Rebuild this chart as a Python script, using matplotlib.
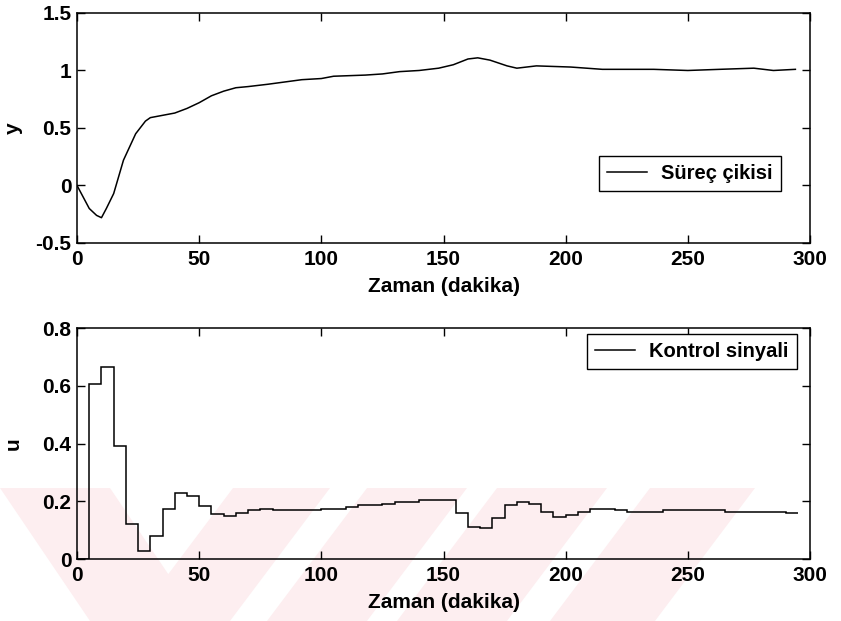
import numpy as np
import matplotlib
matplotlib.use("Agg")
import matplotlib.pyplot as plt
from matplotlib.patches import Polygon
from matplotlib.ticker import FormatStrFormatter

plt.rcParams['font.family'] = ['Liberation Sans', 'DejaVu Sans']
plt.rcParams['font.weight'] = 'bold'
plt.rcParams['axes.labelweight'] = 'bold'
plt.rcParams['font.size'] = 15

# process output y(t)
t_y = [0, 2, 5, 8, 10, 12, 15, 19, 24, 28, 30, 35, 40, 45, 50, 55, 60, 65, 70,
       78, 85, 92, 100, 105, 118, 125, 132, 140, 148, 154, 160, 164, 169, 176,
       180, 188, 195, 202, 215, 236, 250, 263, 277, 285, 294]
y = [0.0, -0.08, -0.2, -0.26, -0.28, -0.2, -0.07, 0.22, 0.45, 0.56, 0.59, 0.61,
     0.63, 0.67, 0.72, 0.78, 0.82, 0.85, 0.86, 0.88, 0.90, 0.92, 0.93, 0.95,
     0.96, 0.97, 0.99, 1.00, 1.02, 1.05, 1.10, 1.11, 1.09, 1.04, 1.02, 1.04,
     1.035, 1.03, 1.01, 1.01, 1.00, 1.01, 1.02, 1.00, 1.01]

# control signal, held over 5 minute sample periods
u = [0.0, 0.605, 0.665, 0.39, 0.12, 0.027, 0.08, 0.172, 0.228, 0.218,
     0.183, 0.155, 0.150, 0.160, 0.171, 0.174, 0.170, 0.170, 0.170, 0.170,
     0.174, 0.174, 0.181, 0.186, 0.186, 0.192, 0.196, 0.196, 0.204, 0.204,
     0.204, 0.158, 0.112, 0.108, 0.141, 0.187, 0.197, 0.189, 0.164, 0.147,
     0.152, 0.162, 0.173, 0.173, 0.170, 0.163, 0.163, 0.163, 0.170, 0.170,
     0.170, 0.170, 0.170, 0.163, 0.163, 0.163, 0.163, 0.163, 0.158]
Ts = 5
u_edges = np.arange(len(u) + 1) * Ts

xticks = [0, 50, 100, 150, 200, 250, 300]
y_ticks = [-0.5, 0, 0.5, 1, 1.5]
u_ticks = [0, 0.2, 0.4, 0.6, 0.8]
xlabel = 'Zaman (dakika)'

W, H = 841, 621
fig = plt.figure(figsize=(W / 100, H / 100), dpi=100)
fig.patch.set_facecolor('white')

# faint thesis watermark stripes (pixel coords of the page)
pink = '#fdeef0'
stripes = [
    [(650, 488), (755, 488), (655, 621), (550, 621)],
    [(497, 488), (607, 488), (507, 621), (397, 621)],
    [(367, 488), (467, 488), (367, 621), (267, 621)],
    [(233, 488), (330, 488), (230, 621), (133, 621)],
    [(0, 488), (110, 488), (200, 621), (90, 621)],
]
for s in stripes:
    pts = [(px / W, 1 - py / H) for px, py in s]
    fig.add_artist(Polygon(pts, closed=True, facecolor=pink, edgecolor='none',
                           transform=fig.transFigure, zorder=-1))

ax1 = fig.add_axes([0.0916, 0.6087, 0.8716, 0.3704])
ax2 = fig.add_axes([0.0916, 0.0998, 0.8716, 0.372])

ax1.plot(t_y, y, color='black', lw=1.1, label='Süreç çikisi')
ax2.stairs(u, u_edges, baseline=None, color='black', lw=1.1, label='Kontrol sinyali')

ax1.set_ylim(-0.5, 1.5)
ax1.set_yticks(y_ticks)
ax1.yaxis.set_major_formatter(FormatStrFormatter('%g'))
ax1.set_ylabel('y')

ax2.set_ylim(0, 0.8)
ax2.set_yticks(u_ticks)
ax2.yaxis.set_major_formatter(FormatStrFormatter('%g'))
ax2.set_ylabel('u')

for ax in (ax1, ax2):
    ax.set_facecolor('none')
    ax.set_xlim(0, 300)
    ax.set_xticks(xticks)
    ax.set_xlabel(xlabel, labelpad=6)
    ax.yaxis.set_label_coords(-0.074, 0.5)
    ax.tick_params(direction='in', length=5.5, width=1, top=True, right=True)
    ax.tick_params(axis='x', pad=5)
    ax.tick_params(axis='y', pad=4)
    for sp in ax.spines.values():
        sp.set_linewidth(1.1)

leg_kw = dict(fancybox=False, edgecolor='black', framealpha=1, borderaxespad=0,
              handlelength=2.0, handletextpad=0.7, borderpad=0.4,
              prop={'size': 14.5, 'weight': 'bold'})
l1 = ax1.legend(loc='lower right', bbox_to_anchor=(0.960, 0.226), **leg_kw)
l2 = ax2.legend(loc='upper right', bbox_to_anchor=(0.982, 0.974), **leg_kw)
for lg in (l1, l2):
    lg.get_frame().set_linewidth(1.0)

fig.savefig('out.png', dpi=100)
